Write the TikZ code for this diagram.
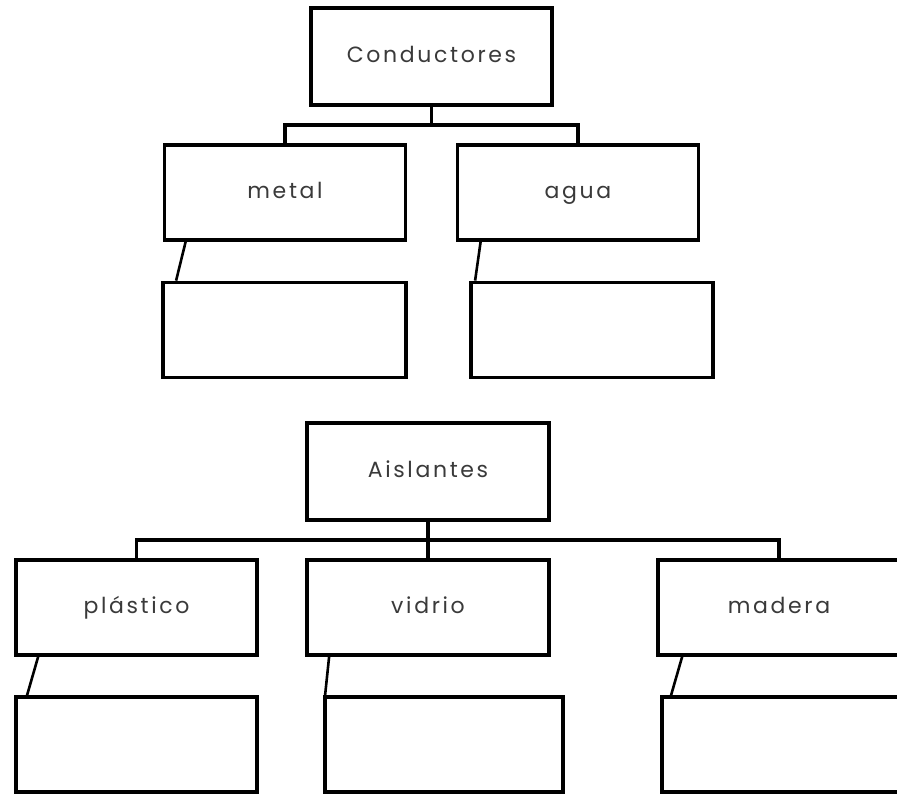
\documentclass[tikz,border=0pt]{standalone}
\usepackage{fontspec}
\newfontfamily\lblfont{Poppins}[LetterSpace=12]
\usetikzlibrary{calc}
\definecolor{txt}{HTML}{3A3A3A}
\tikzset{
  box/.style={draw=black, line width=3.8pt, minimum width=241pt, minimum height=95pt,
    inner sep=0pt, text=txt, text height=16pt, text depth=5pt,
    font=\lblfont\fontsize{22}{26}\selectfont},
  bar/.style={draw=black, line width=3.8pt},
  slant/.style={draw=black, line width=2.6pt}
}
\begin{document}
\begin{tikzpicture}[x=1pt,y=-1pt]
\useasboundingbox (0,0) rectangle (897,795);
\clip (0,0) rectangle (897,795);
\fill[white] (0,0) rectangle (897,795);
% top tree
\node[box, minimum height=97pt] (cond) at (431.5,56.5) {Conductores};
\node[box] (metal) at (285,192.5) {metal};
\node[box] (agua) at (578,192.5) {agua};
\node[box, minimum width=243pt] (metalE) at (284.5,330) {};
\node[box, minimum width=242pt] (aguaE) at (592,330) {};
\coordinate (cbar) at (431.5,125);
\draw[bar] (cond.south) -- (cbar);
\draw[bar] (metal.north) -- (metal.north |- cbar) -- (agua.north |- cbar) -- (agua.north);
\draw[slant] ($(metal.south west)+(23,0)$) -- ($(metalE.north west)+(15,0)$);
\draw[slant] ($(agua.south west)+(25,0)$) -- ($(aguaE.north west)+(6,0)$);
% bottom tree
\node[box, minimum width=242pt, minimum height=97pt] (ais) at (428,471.5) {Aislantes};
\node[box] (plas) at (136.5,607.5) {plástico};
\node[box, minimum width=242pt] (vid) at (428,607.5) {vidrio};
\node[box, minimum width=242pt] (mad) at (779,607.5) {madera};
\node[box] (plasE) at (136.5,744.5) {};
\node[box, minimum width=238pt] (vidE) at (444,744.5) {};
\node[box, minimum width=240pt] (madE) at (782,744.5) {};
\coordinate (abar) at (428,540);
\draw[bar] (ais.south) -- (vid.north);
\draw[bar] (plas.north) -- (plas.north |- abar) -- (mad.north |- abar) -- (mad.north);
\draw[slant] ($(plas.south west)+(24,0)$) -- ($(plasE.north west)+(13,0)$);
\draw[slant] ($(vid.south west)+(24,0)$) -- ($(vidE.north west)+(2,0)$);
\draw[slant] ($(mad.south west)+(26,0)$) -- ($(madE.north west)+(11,0)$);
\end{tikzpicture}
\end{document}
